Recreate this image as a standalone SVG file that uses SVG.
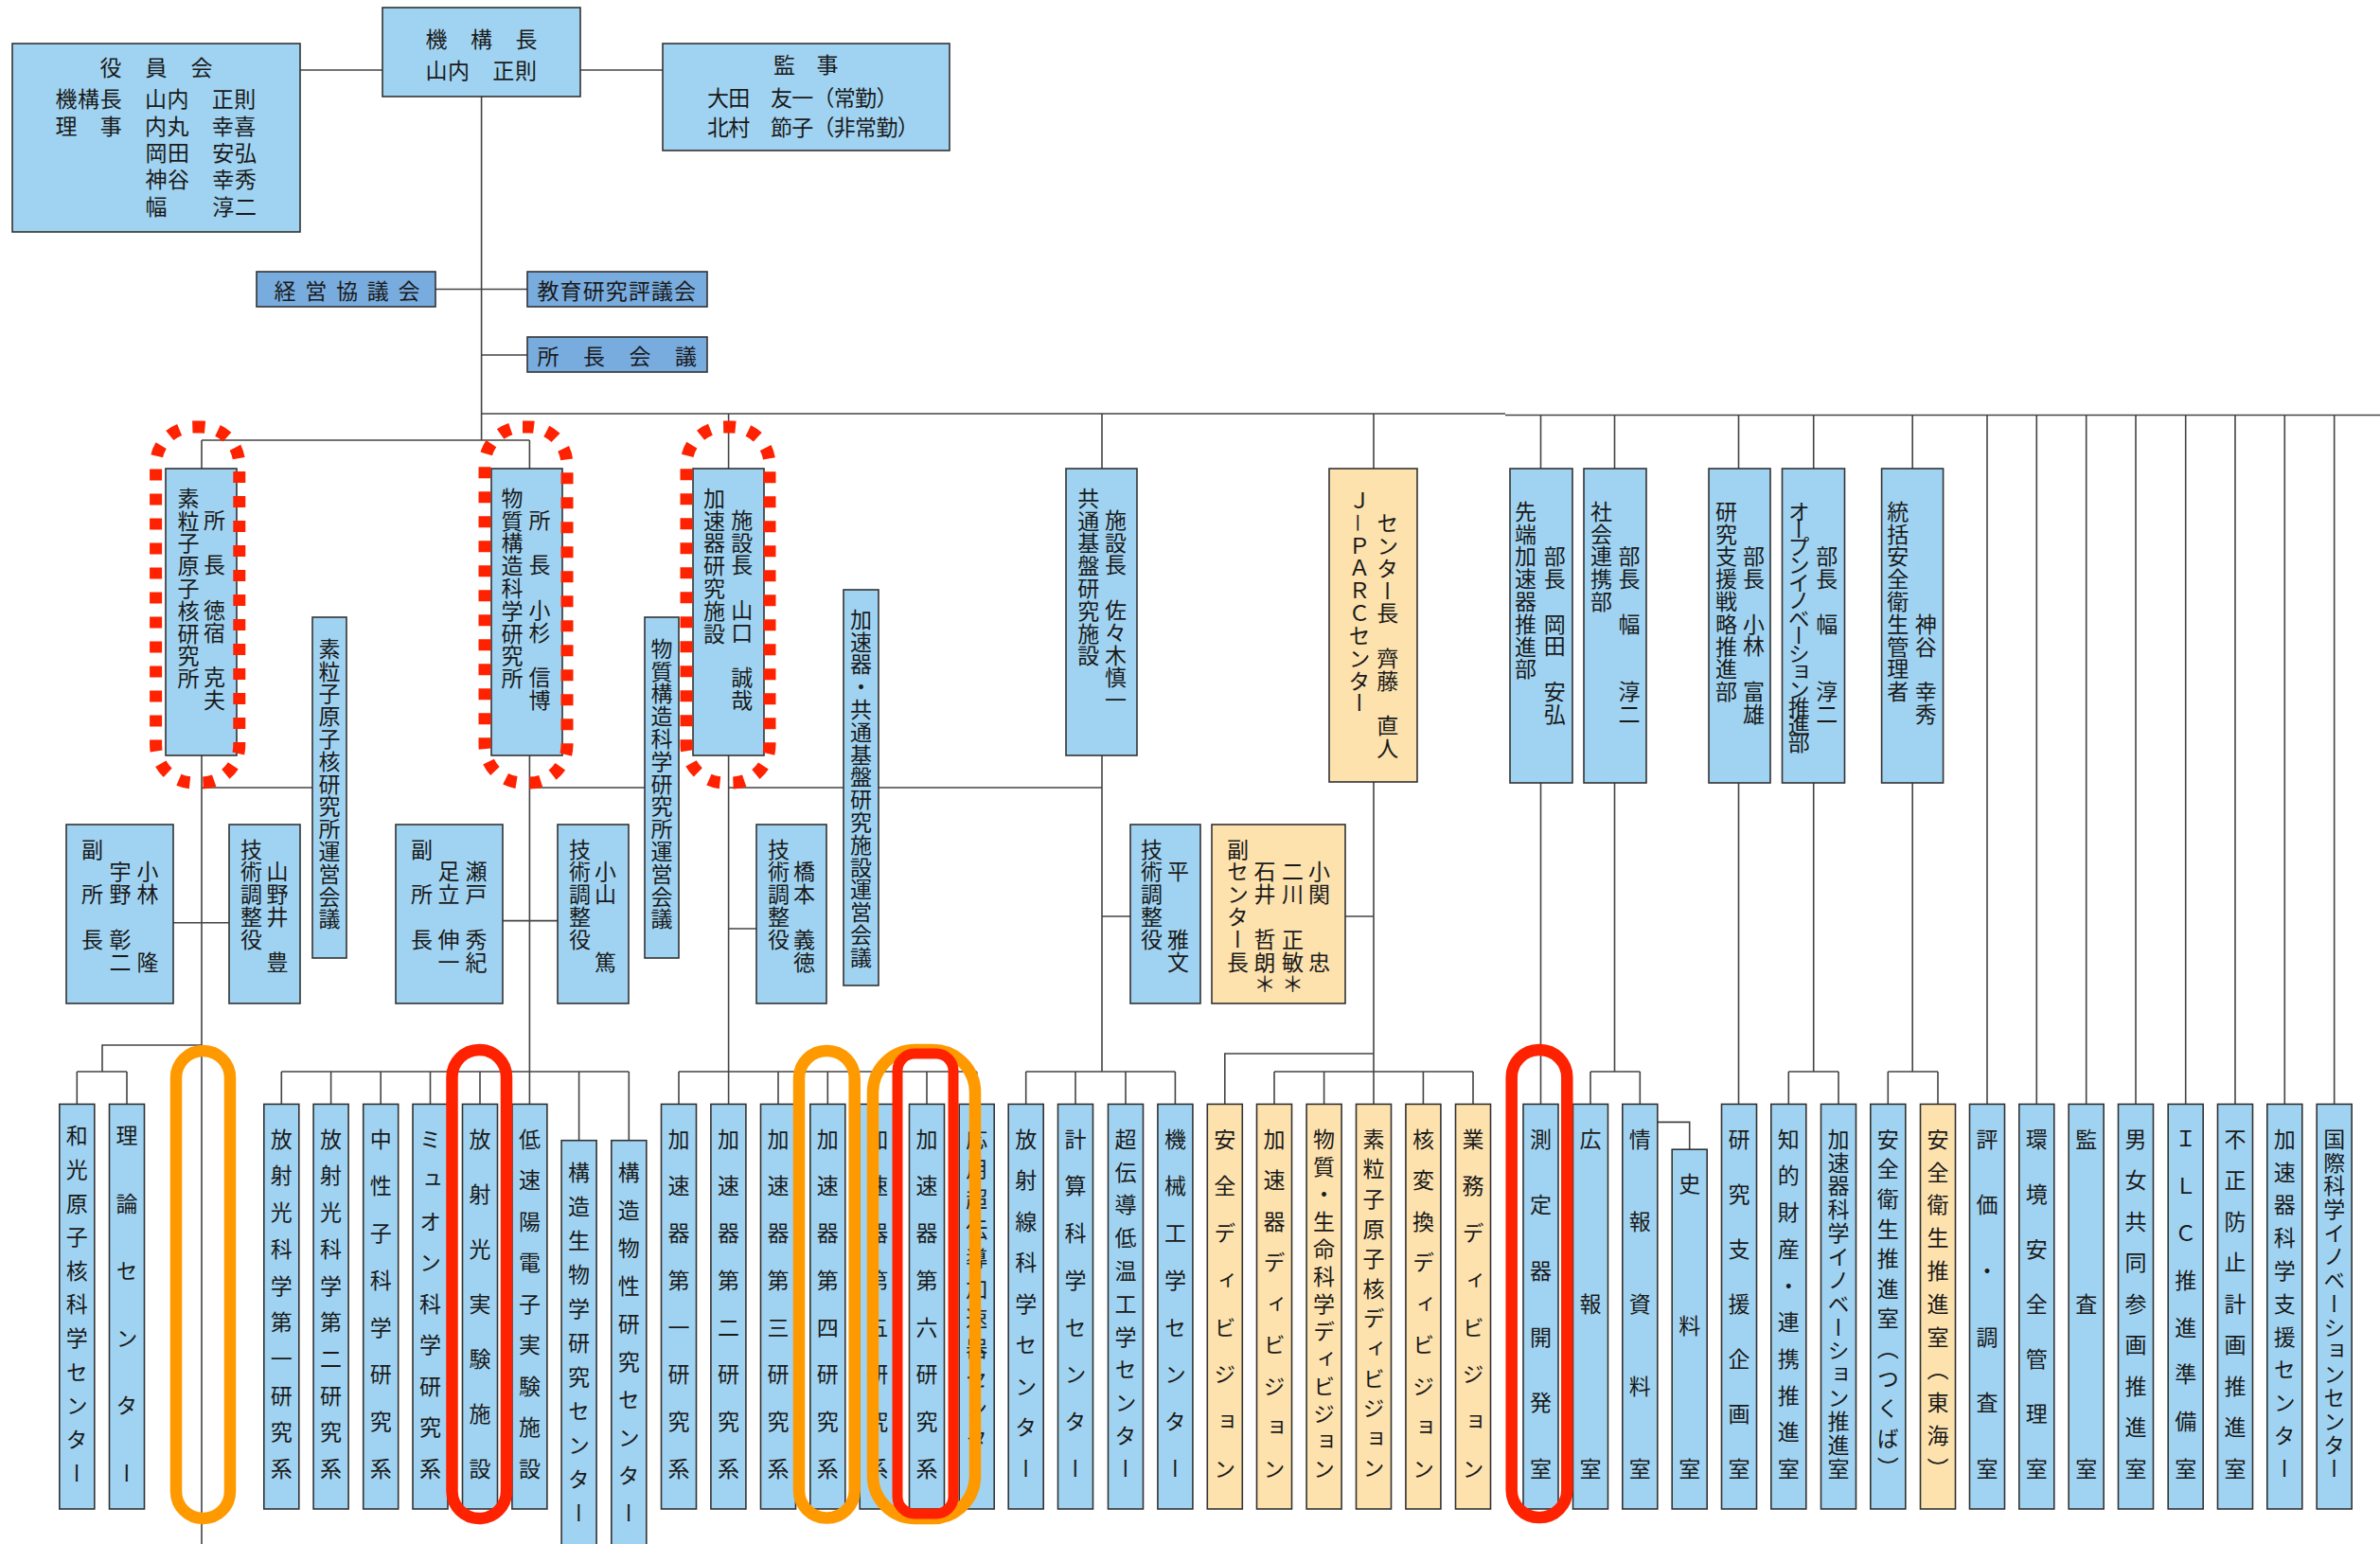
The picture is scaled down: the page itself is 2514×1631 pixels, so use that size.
<svg xmlns="http://www.w3.org/2000/svg" width="2514" height="1631" viewBox="0 0 2514 1631">
<style>
.bx{fill:#a0d3f1;stroke:#333;stroke-width:1.6}
.bd{fill:#78acdf;stroke:#333;stroke-width:1.6}
.bo{fill:#fde2ae;stroke:#333;stroke-width:1.6}
.t{font-family:"Noto Sans CJK JP","Noto Sans CJK SC",sans-serif;font-size:23px;fill:#1a1a1a}
.h{dominant-baseline:central}
.v{writing-mode:vertical-rl}
.ln{stroke:#444;stroke-width:1.6;fill:none}
.dash{fill:none;stroke:#ff2200;stroke-width:13;stroke-dasharray:12 14}
.or{fill:none;stroke:#ff9900;stroke-width:12.5}
.rd{fill:none;stroke:#ff2200;stroke-width:12.5}
</style>
<rect width="2514" height="1631" fill="#fff"/>
<g id="connectors">
<path class="ln" d="M317,74H404M613,74H700M508.6,102V465M460,305.5H557M508.6,375H557M508.6,437H1590M1590,438.5H2514"/>
<path class="ln" d="M213,465H559.4M213,465V495M559.4,465V495M769.6,437V495M1164,437V495M1451,437V495M1627.5,438V495M1705.5,438V495M1836.5,438V495M1915.7,438V495M2020.2,438V495"/>
<path class="ln" d="M2099,438V1166M2151.3,438V1166M2203.7,438V1166M2256,438V1166M2308.7,438V1166M2361,438V1166M2413.3,438V1166M2465.7,438V1166"/>
<path class="ln" d="M213,798V1631M213,832H330M559.4,798V1166M559.4,832H681M769.6,798V1166M769.6,832H1164M1164,798V1132M1451,826V1166"/>
<path class="ln" d="M183,974.7H242M531,972.6H589M769.6,981H799M1164,968H1194M1421,968H1451"/>
<path class="ln" d="M213,1104H108V1132M81.3,1132H134M81.3,1132V1166M134,1132V1166"/>
<path class="ln" d="M297.3,1132H664.3M297.3,1132V1166M349.6,1132V1166M402.2,1132V1166M454.5,1132V1166M507,1132V1166M611.6,1132V1205M664.3,1132V1205"/>
<path class="ln" d="M717,1132H1031.7M717,1132V1166M822,1132V1166M874.3,1132V1166M926.7,1132V1166M979,1132V1166M1031.7,1132V1166"/>
<path class="ln" d="M1083.7,1132H1241.4M1083.7,1132V1166M1136,1132V1166M1189,1132V1166M1241.4,1132V1166"/>
<path class="ln" d="M1451,1113H1293.8V1166M1346,1132H1556M1346,1132V1166M1398.6,1132V1166M1503.4,1132V1166M1556,1132V1166"/>
<path class="ln" d="M1627.5,827V1166M1705.5,827V1132M1680,1132H1732.3M1680,1132V1166M1732.3,1132V1166M1750.8,1185.4H1784.7V1214"/>
<path class="ln" d="M1836.5,827V1166M1915.7,827V1132M1889.3,1132H1942M1889.3,1132V1166M1942,1132V1166M2020.2,827V1132M1994.3,1132H2047M1994.3,1132V1166M2047,1132V1166"/>
</g>
<g id="n-yakuinkai"><rect class="bx" x="13" y="46" width="304" height="199"/>
<text class="t h" x="105.5" y="70" style="letter-spacing:1px">役　員　会</text>
<text class="t h" x="58.5" y="103" style="letter-spacing:0.6px">機構長　山内　正則</text>
<text class="t h" x="58.5" y="132" style="letter-spacing:0.6px">理　事　内丸　幸喜</text>
<text class="t h" x="153.5" y="160" style="letter-spacing:0.6px">岡田　安弘</text>
<text class="t h" x="153.5" y="188" style="letter-spacing:0.6px">神谷　幸秀</text>
<text class="t h" x="153.5" y="217" style="letter-spacing:0.6px">幅　　淳二</text></g>
<g id="n-kikouchou"><rect class="bx" x="404" y="8" width="209" height="94"/>
<text class="t h" x="449.5" y="40" style="letter-spacing:0.75px">機　構　長</text>
<text class="t h" x="449.5" y="73" style="letter-spacing:0.6px">山内　正則</text></g>
<g id="n-kanji"><rect class="bx" x="700" y="46" width="303" height="113"/>
<text class="t h" x="817" y="67" style="letter-spacing:-0.25px">監　事</text>
<text class="t h" x="747" y="102" style="letter-spacing:-0.7px">大田　友一（常勤）</text>
<text class="t h" x="747" y="133" style="letter-spacing:-0.7px">北村　節子（非常勤）</text></g>
<g id="n-keiei"><rect class="bd" x="271" y="287" width="189" height="37"/>
<text class="t h" x="289.5" y="305.5" style="letter-spacing:9.75px">経営協議会</text></g>
<g id="n-kyouiku"><rect class="bd" x="557" y="287" width="190" height="37"/>
<text class="t h" x="567.5" y="305.5" style="letter-spacing:1.1px">教育研究評議会</text></g>
<g id="n-shochou"><rect class="bd" x="557" y="356" width="190" height="37"/>
<text class="t h" x="567.5" y="375" style="letter-spacing:25.5px">所長会議</text></g>

<g id="n-ipns"><rect class="bx" x="175" y="495" width="75" height="303"/>
<text class="t v" x="199" y="514.5" style="letter-spacing:0.8px">素粒子原子核研究所</text>
<text class="t v" x="226.6" y="537.5" style="letter-spacing:0.8px">所　長　徳宿　克夫</text></g>
<g id="n-imss"><rect class="bx" x="519" y="495" width="75" height="303"/>
<text class="t v" x="541" y="514.5" style="letter-spacing:0.8px">物質構造科学研究所</text>
<text class="t v" x="570" y="537.5" style="letter-spacing:0.8px">所　長　小杉　信博</text></g>
<g id="n-acl"><rect class="bx" x="732" y="495" width="75" height="303"/>
<text class="t v" x="754.5" y="514.5" style="letter-spacing:0.8px">加速器研究施設</text>
<text class="t v" x="783.7" y="537.5" style="letter-spacing:0.8px">施設長　山口　誠哉</text></g>
<g id="n-arl"><rect class="bx" x="1126" y="495" width="75" height="303"/>
<text class="t v" x="1149.7" y="514.5" style="letter-spacing:0.8px">共通基盤研究施設</text>
<text class="t v" x="1178.4" y="537.5" style="letter-spacing:0.8px">施設長　佐々木慎一</text></g>
<g id="n-jparc"><rect class="bo" x="1404" y="495" width="93" height="331"/>
<text class="t v" x="1436" y="517" style="letter-spacing:0.8px">Ｊ－ＰＡＲＣセンター</text>
<text class="t v" x="1465.7" y="541" style="letter-spacing:0.8px">センター長　齊藤　直人</text></g>
<g id="n-sentan"><rect class="bx" x="1595" y="495" width="66" height="332"/>
<text class="t v" x="1611.5" y="528.5" style="letter-spacing:0.8px">先端加速器推進部</text>
<text class="t v" x="1642.2" y="576" style="letter-spacing:0.8px">部長　岡田　安弘</text></g>
<g id="n-shakai"><rect class="bx" x="1673" y="495" width="66" height="332"/>
<text class="t v" x="1691.4" y="528.5" style="letter-spacing:0.8px">社会連携部</text>
<text class="t v" x="1720.9" y="576" style="letter-spacing:0.8px">部長　幅　　淳二</text></g>
<g id="n-kenkyushien"><rect class="bx" x="1805" y="495" width="65" height="332"/>
<text class="t v" x="1823.5" y="528.5" style="letter-spacing:0.8px">研究支援戦略推進部</text>
<text class="t v" x="1852.4" y="576" style="letter-spacing:0.8px">部長　小林　富雄</text></g>
<g id="n-open"><rect class="bx" x="1882.5" y="495" width="66" height="332"/>
<text class="t v" x="1900.3" y="528.5" style="letter-spacing:-4.2px">オープンイノベーション推進部</text>
<text class="t v" x="1929.8" y="576" style="letter-spacing:0.8px">部長　幅　　淳二</text></g>
<g id="n-toukatsu"><rect class="bx" x="1987.6" y="495" width="65" height="332"/>
<text class="t v" x="2004.8" y="528.5" style="letter-spacing:0.8px">統括安全衛生管理者</text>
<text class="t v" x="2034.3" y="647.5" style="letter-spacing:0.8px">神谷　幸秀</text></g>

<g id="n-ipns-council"><rect class="bx" x="330" y="652" width="36" height="360"/>
<text class="t v" x="348" y="673.5" style="letter-spacing:0.8px">素粒子原子核研究所運営会議</text></g>
<g id="n-imss-council"><rect class="bx" x="681" y="652" width="36" height="360"/>
<text class="t v" x="699" y="673.5" style="letter-spacing:0.8px">物質構造科学研究所運営会議</text></g>
<g id="n-acl-council"><rect class="bx" x="891" y="623" width="37" height="418"/>
<text class="t v" x="909.5" y="642.5" style="letter-spacing:0.8px">加速器・共通基盤研究施設運営会議</text></g>

<g id="n-ipns-vice"><rect class="bx" x="70" y="871" width="113" height="189"/>
<text class="t v" x="97.6" y="885.3" style="letter-spacing:0.8px">副　所　長</text>
<text class="t v" x="127" y="909.1" style="letter-spacing:0.8px">宇野　彰二</text>
<text class="t v" x="156" y="909.1" style="letter-spacing:0.8px">小林　　隆</text></g>
<g id="n-ipns-tech"><rect class="bx" x="242" y="871" width="75" height="189"/>
<text class="t v" x="265.6" y="885.3" style="letter-spacing:0.8px">技術調整役</text>
<text class="t v" x="293" y="909.1" style="letter-spacing:0.8px">山野井　豊</text></g>
<g id="n-imss-vice"><rect class="bx" x="418" y="871" width="113" height="189"/>
<text class="t v" x="445.5" y="885.3" style="letter-spacing:0.8px">副　所　長</text>
<text class="t v" x="474" y="909.1" style="letter-spacing:0.8px">足立　伸一</text>
<text class="t v" x="503" y="909.1" style="letter-spacing:0.8px">瀬戸　秀紀</text></g>
<g id="n-imss-tech"><rect class="bx" x="589" y="871" width="75" height="189"/>
<text class="t v" x="612.5" y="885.3" style="letter-spacing:0.8px">技術調整役</text>
<text class="t v" x="639.6" y="909.1" style="letter-spacing:0.8px">小山　　篤</text></g>
<g id="n-acl-tech"><rect class="bx" x="799" y="871" width="74" height="189"/>
<text class="t v" x="822.4" y="885.3" style="letter-spacing:0.8px">技術調整役</text>
<text class="t v" x="849.5" y="909.1" style="letter-spacing:0.8px">橋本　義徳</text></g>
<g id="n-arl-tech"><rect class="bx" x="1194" y="871" width="74" height="189"/>
<text class="t v" x="1216.4" y="885.3" style="letter-spacing:0.8px">技術調整役</text>
<text class="t v" x="1244.6" y="909.1" style="letter-spacing:0.8px">平　　雅文</text></g>
<g id="n-jparc-vice"><rect class="bo" x="1280" y="871" width="141" height="189"/>
<text class="t v" x="1307.5" y="885.3" style="letter-spacing:0.8px">副センター長</text>
<text class="t v" x="1336" y="909.1" style="letter-spacing:0.8px">石井　哲朗＊</text>
<text class="t v" x="1365.4" y="909.1" style="letter-spacing:0.8px">二川　正敏＊</text>
<text class="t v" x="1393.6" y="909.1" style="letter-spacing:0.8px">小関　　忠</text></g>

<g id="n-b01"><rect class="bx" x="62.8" y="1166.4" width="37" height="427.6"/><text class="t v" x="81.3" y="1188" style="letter-spacing:12.65px">和光原子核科学センター</text></g>
<g id="n-b02"><rect class="bx" x="115.5" y="1166.4" width="37" height="427.6"/><text class="t v" x="134" y="1188 1259.3 1330.6 1401.9 1473.2 1544.5">理論センター</text></g>
<g id="n-b03"><rect class="bx" x="278.8" y="1166.4" width="37" height="427.6"/><text class="t v" x="297.3" y="1191.5" style="letter-spacing:15.7px">放射光科学第一研究系</text></g>
<g id="n-b04"><rect class="bx" x="331.1" y="1166.4" width="37" height="427.6"/><text class="t v" x="349.6" y="1191.5" style="letter-spacing:15.7px">放射光科学第二研究系</text></g>
<g id="n-b05"><rect class="bx" x="383.7" y="1166.4" width="37" height="427.6"/><text class="t v" x="402.2" y="1191.5" style="letter-spacing:26.7px">中性子科学研究系</text></g>
<g id="n-b06"><rect class="bx" x="436" y="1166.4" width="37" height="427.6"/><text class="t v" x="454.5" y="1191.5" style="letter-spacing:20.5px">ミュオン科学研究系</text></g>
<g id="n-b07"><rect class="bx" x="488.5" y="1166.4" width="37" height="427.6"/><text class="t v" x="507" y="1191.5 1249.5 1307.5 1365.5 1423.5 1481.5 1539.5">放射光実験施設</text></g>
<g id="n-b08"><rect class="bx" x="540.9" y="1166.4" width="37" height="427.6"/><text class="t v" x="559.4" y="1191.5" style="letter-spacing:20.5px">低速陽電子実験施設</text></g>
<g id="n-b09"><rect class="bx" x="593.1" y="1204.7" width="37" height="440"/><text class="t v" x="611.6" y="1226.5" style="letter-spacing:13px">構造生物学研究センター</text></g>
<g id="n-b10"><rect class="bx" x="645.8" y="1204.7" width="37" height="440"/><text class="t v" x="664.3" y="1226.5" style="letter-spacing:17px">構造物性研究センター</text></g>
<g id="n-b11"><rect class="bx" x="698.5" y="1166.4" width="37" height="427.6"/><text class="t v" x="717" y="1191.5" style="letter-spacing:26.7px">加速器第一研究系</text></g>
<g id="n-b12"><rect class="bx" x="750.9" y="1166.4" width="37" height="427.6"/><text class="t v" x="769.4" y="1191.5" style="letter-spacing:26.7px">加速器第二研究系</text></g>
<g id="n-b13"><rect class="bx" x="803.5" y="1166.4" width="37" height="427.6"/><text class="t v" x="822" y="1191.5" style="letter-spacing:26.7px">加速器第三研究系</text></g>
<g id="n-b14"><rect class="bx" x="855.8" y="1166.4" width="37" height="427.6"/><text class="t v" x="874.3" y="1191.5" style="letter-spacing:26.7px">加速器第四研究系</text></g>
<g id="n-b15"><rect class="bx" x="908.2" y="1166.4" width="37" height="427.6"/><text class="t v" x="926.7" y="1191.5" style="letter-spacing:26.7px">加速器第五研究系</text></g>
<g id="n-b16"><rect class="bx" x="960.5" y="1166.4" width="37" height="427.6"/><text class="t v" x="979" y="1191.5" style="letter-spacing:26.7px">加速器第六研究系</text></g>
<g id="n-b17"><rect class="bx" x="1013.2" y="1166.4" width="37" height="427.6"/><text class="t v" x="1031.7" y="1191.5" style="letter-spacing:8.6px">応用超伝導加速器センター</text></g>
<g id="n-b18"><rect class="bx" x="1065.2" y="1166.4" width="37" height="427.6"/><text class="t v" x="1083.7" y="1191.5" style="letter-spacing:20.5px">放射線科学センター</text></g>
<g id="n-b19"><rect class="bx" x="1117.5" y="1166.4" width="37" height="427.6"/><text class="t v" x="1136" y="1191.5" style="letter-spacing:26.7px">計算科学センター</text></g>
<g id="n-b20"><rect class="bx" x="1170.5" y="1166.4" width="37" height="427.6"/><text class="t v" x="1189" y="1191.5" style="letter-spacing:11.8px">超伝導低温工学センター</text></g>
<g id="n-b21"><rect class="bx" x="1222.9" y="1166.4" width="37" height="427.6"/><text class="t v" x="1241.4" y="1191.5" style="letter-spacing:26.7px">機械工学センター</text></g>
<g id="n-b22"><rect class="bo" x="1275.3" y="1166.4" width="37" height="427.6"/><text class="t v" x="1293.8" y="1191.5" style="letter-spacing:26.7px">安全ディビジョン</text></g>
<g id="n-b23"><rect class="bo" x="1327.5" y="1166.4" width="37" height="427.6"/><text class="t v" x="1346" y="1191.5" style="letter-spacing:20.5px">加速器ディビジョン</text></g>
<g id="n-b24"><rect class="bo" x="1380.1" y="1166.4" width="37" height="427.6"/><text class="t v" x="1398.6" y="1191.5" style="letter-spacing:6px">物質・生命科学ディビジョン</text></g>
<g id="n-b25"><rect class="bo" x="1432.5" y="1166.4" width="37" height="427.6"/><text class="t v" x="1451" y="1191.5" style="letter-spacing:8.6px">素粒子原子核ディビジョン</text></g>
<g id="n-b26"><rect class="bo" x="1484.9" y="1166.4" width="37" height="427.6"/><text class="t v" x="1503.4" y="1191.5" style="letter-spacing:20.5px">核変換ディビジョン</text></g>
<g id="n-b27"><rect class="bo" x="1537.5" y="1166.4" width="37" height="427.6"/><text class="t v" x="1556" y="1191.5" style="letter-spacing:26.7px">業務ディビジョン</text></g>
<g id="n-b28"><rect class="bx" x="1609" y="1166.4" width="37" height="427.6"/><text class="t v" x="1627.5" y="1191.5 1261.1 1330.7 1400.3 1469.9 1539.5">測定器開発室</text></g>
<g id="n-b29"><rect class="bx" x="1661.5" y="1166.4" width="37" height="427.6"/><text class="t v" x="1680" y="1191.5 1365.5 1539.5">広報室</text></g>
<g id="n-b30"><rect class="bx" x="1713.8" y="1166.4" width="37" height="427.6"/><text class="t v" x="1732.3" y="1191.5 1278.5 1365.5 1452.5 1539.5">情報資料室</text></g>
<g id="n-b31"><rect class="bx" x="1766.2" y="1214.2" width="37" height="379.8"/><text class="t v" x="1784.7" y="1238.9 1389.2 1539.5">史料室</text></g>
<g id="n-b32"><rect class="bx" x="1818.5" y="1166.4" width="37" height="427.6"/><text class="t v" x="1837" y="1191.5 1249.5 1307.5 1365.5 1423.5 1481.5 1539.5">研究支援企画室</text></g>
<g id="n-b33"><rect class="bx" x="1870.8" y="1166.4" width="37" height="427.6"/><text class="t v" x="1889.3" y="1191.5" style="letter-spacing:15.7px">知的財産・連携推進室</text></g>
<g id="n-b34"><rect class="bx" x="1923.5" y="1166.4" width="37" height="427.6"/><text class="t v" x="1942" y="1191.5" style="letter-spacing:1.86px">加速器科学イノベーション推進室</text></g>
<g id="n-b35"><rect class="bx" x="1975.8" y="1166.4" width="37" height="427.6"/><text class="t v" x="1994.3" y="1191.5" style="letter-spacing:8.6px">安全衛生推進室（つくば）</text></g>
<g id="n-b36"><rect class="bo" x="2028.5" y="1166.4" width="37" height="427.6"/><text class="t v" x="2047" y="1191.5" style="letter-spacing:11.8px">安全衛生推進室（東海）</text></g>
<g id="n-b37"><rect class="bx" x="2080.5" y="1166.4" width="37" height="427.6"/><text class="t v" x="2099" y="1191.5 1261.1 1330.7 1400.3 1469.9 1539.5">評価・調査室</text></g>
<g id="n-b38"><rect class="bx" x="2132.8" y="1166.4" width="37" height="427.6"/><text class="t v" x="2151.3" y="1191.5 1249.5 1307.5 1365.5 1423.5 1481.5 1539.5">環境安全管理室</text></g>
<g id="n-b39"><rect class="bx" x="2185.2" y="1166.4" width="37" height="427.6"/><text class="t v" x="2203.7" y="1191.5 1365.5 1539.5">監査室</text></g>
<g id="n-b40"><rect class="bx" x="2237.5" y="1166.4" width="37" height="427.6"/><text class="t v" x="2256" y="1191.5" style="letter-spacing:20.5px">男女共同参画推進室</text></g>
<g id="n-b41"><rect class="bx" x="2290.2" y="1166.4" width="37" height="427.6"/><text class="t v" x="2308.7" y="1191.5" style="letter-spacing:26.7px">ＩＬＣ推進準備室</text></g>
<g id="n-b42"><rect class="bx" x="2342.5" y="1166.4" width="37" height="427.6"/><text class="t v" x="2361" y="1191.5" style="letter-spacing:20.5px">不正防止計画推進室</text></g>
<g id="n-b43"><rect class="bx" x="2394.8" y="1166.4" width="37" height="427.6"/><text class="t v" x="2413.3" y="1191.5" style="letter-spacing:11.8px">加速器科学支援センター</text></g>
<g id="n-b44"><rect class="bx" x="2447.2" y="1166.4" width="37" height="427.6"/><text class="t v" x="2465.7" y="1191.5" style="letter-spacing:1.86px">国際科学イノベーションセンター</text></g>

<g id="highlights">
<rect class="dash" x="164.6" y="451" width="88.2" height="376" rx="40"/>
<rect class="dash" x="512" y="451" width="87" height="376" rx="40"/>
<rect class="dash" x="725" y="451" width="88" height="376" rx="40"/>
<rect class="or" x="186" y="1110" width="57" height="494" rx="28.5"/>
<rect class="rd" x="477.5" y="1109" width="57.5" height="495" rx="28.7"/>
<rect class="or" x="844" y="1110" width="58.7" height="493.5" rx="29"/>
<rect class="or" x="922" y="1109" width="108" height="495" rx="45"/>
<rect class="rd" x="948" y="1113" width="59" height="486" rx="18" style="stroke-width:11"/>
<rect class="rd" x="1596.7" y="1109" width="58.6" height="494" rx="29"/>
</g>
</svg>
